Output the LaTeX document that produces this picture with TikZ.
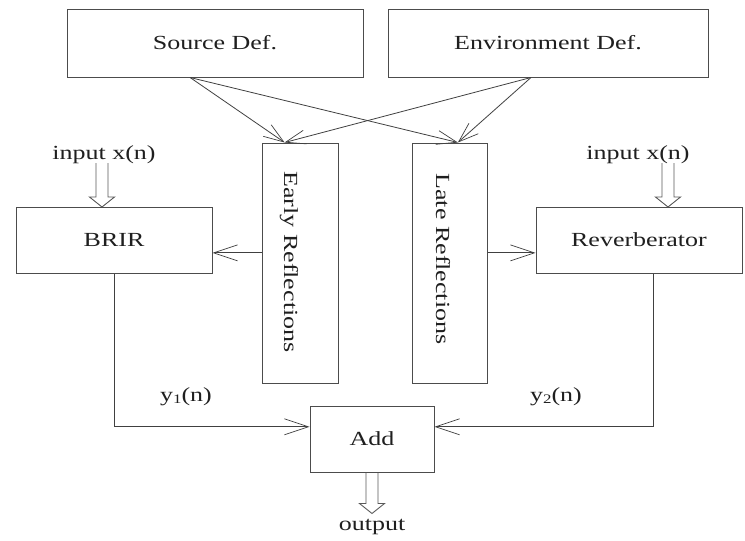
\documentclass[tikz,border=0pt]{standalone}
\usepackage{fontspec}
\setmainfont{Liberation Serif}[FakeStretch=1.3]
\usetikzlibrary{calc,arrows.meta}
\begin{document}
\begin{tikzpicture}[x=1pt,y=-1pt,
  every node/.style={font=\fontsize{20}{24}\selectfont, text=black!88},
  box/.style={draw=black!70, line width=1pt, inner sep=0pt},
  conn/.style={draw=black!75, line width=1pt, -{Straight Barb[length=24pt,width=16pt,line width=0.7pt]}},
  wire/.style={draw=black!75, line width=1pt},
  fan/.style={draw=black!75, line width=0.8pt, -{Straight Barb[length=20pt,width=14pt,line width=0.7pt]}},
  pics/harrow/.style={code={
    \draw[black!65, line width=0.9pt] (-6,0) -- (-6,#1-10) -- (-12.5,#1-10) -- (0,#1) -- (12.5,#1-10) -- (6,#1-10) -- (6,0);}}
]
\path[use as bounding box] (0,0) rectangle (745,541);

% boxes
\node[box, minimum width=296pt, minimum height=68pt] (src) at (215,43) {Source Def.};
\node[box, minimum width=320pt, minimum height=68pt] (env) at (548,43) {Environment Def.};
\node[box, minimum width=76pt, minimum height=240pt] (early) at (300,263) {};
\node[box, minimum width=75pt, minimum height=240pt] (late) at (449.5,263) {};
\node[rotate=-90] (earlyT) at (289,262) {Early Reflections};
\node[rotate=-90] (lateT) at (443,259) {Late Reflections};
\node[box, minimum width=196pt, minimum height=66pt] (brir) at (114,240) {BRIR};
\node[box, minimum width=206pt, minimum height=66pt] (rev) at (639,240) {Reverberator};
\node[box, minimum width=124pt, minimum height=66pt] (add) at (372,439) {Add};

% labels
\node (inL) at (104,155) {input x(n)};
\node (inR) at (638,155) {input x(n)};
\node (y1) at (186,397) {y{\fontsize{13}{13}\selectfont\raisebox{-2pt}{1}}(n)};
\node (y2) at (556,397) {y{\fontsize{13}{13}\selectfont\raisebox{-2pt}{2}}(n)};
\node (out) at (372,527) {output};

% connection points
\coordinate (srcO) at ($(src.south west)!0.416!(src.south east)$);
\coordinate (envO) at ($(env.south west)!0.447!(env.south east)$);
\coordinate (earlyIn) at ($(early.north west)!0.30!(early.north east)$);
\coordinate (lateIn) at ($(late.north west)!0.61!(late.north east)$);
\coordinate (earlyOut) at ($(early.north west)!0.458!(early.south west)$);
\coordinate (lateOut) at ($(late.north east)!0.458!(late.south east)$);
\coordinate (revOut) at ($(rev.south west)!0.568!(rev.south east)$);
\coordinate (addInL) at ($(add.north west)!0.318!(add.south west)$);
\coordinate (addInR) at ($(add.north east)!0.318!(add.south east)$);

% fan of arrows
\draw[fan] (srcO) -- (earlyIn);
\draw[fan] (srcO) -- (lateIn);
\draw[fan] (envO) -- (earlyIn);
\draw[fan] (envO) -- (lateIn);

% side arrows
\draw[conn] (earlyOut) -- (brir.east |- earlyOut);
\draw[conn] (lateOut) -- (rev.west |- lateOut);

% outputs to add
\draw[wire] (brir.south) -- (brir.south |- addInL);
\draw[conn] (brir.south |- addInL) -- (addInL);
\draw[wire] (revOut) -- (revOut |- addInR);
\draw[conn] (revOut |- addInR) -- (addInR);

% hollow arrows
\coordinate (inLtop) at (102,163);
\coordinate (inRtop) at (668,163);
\pic at (inLtop) {harrow=44};
\pic at (inRtop) {harrow=44};
\pic at (add.south) {harrow=41};
\end{tikzpicture}
\end{document}
